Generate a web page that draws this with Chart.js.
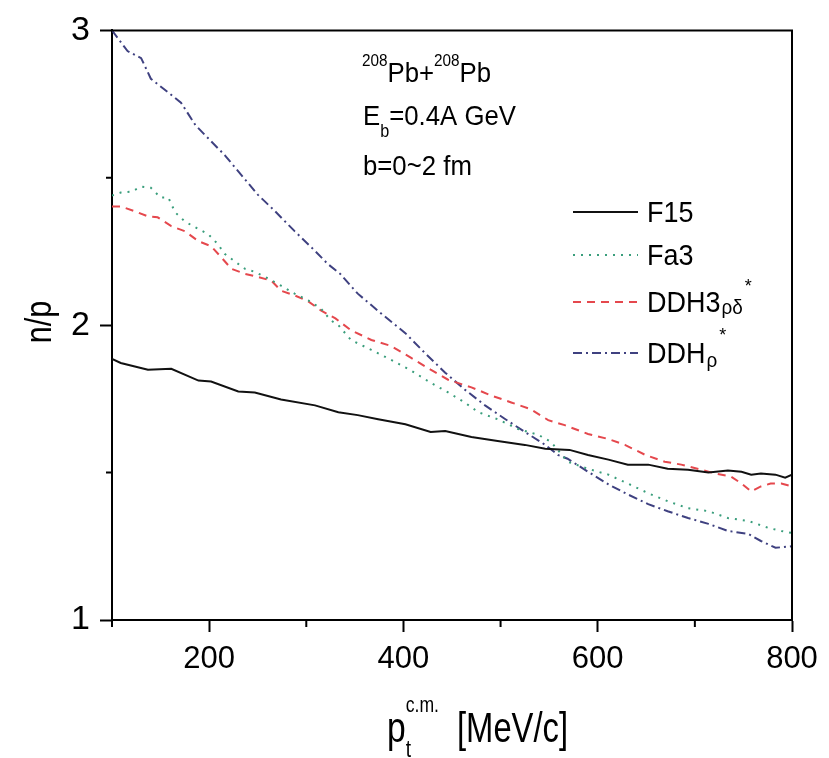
<!DOCTYPE html>
<html>
<head>
<meta charset="utf-8">
<script src="https://cdn.jsdelivr.net/npm/chart.js@4.4.1/dist/chart.umd.min.js"></script>
<style>
  html, body { margin: 0; padding: 0; background: #fff; }
</style>
</head>
<body>
<canvas id="myChart" width="829" height="758"></canvas>
<script>
// values (x in MeV/c, y = n/p ratio)
const f15X = [100, 109, 137, 161, 189, 202, 230, 247, 274, 309, 333, 353, 374, 402, 428, 443, 470, 497, 525, 546, 571, 590, 611, 631, 652, 672, 693, 714, 734, 748, 758, 768, 783, 793, 800];
const f15Y = [1.886, 1.872, 1.849, 1.852, 1.812, 1.809, 1.775, 1.772, 1.748, 1.728, 1.705, 1.695, 1.681, 1.664, 1.638, 1.641, 1.621, 1.607, 1.594, 1.581, 1.577, 1.560, 1.544, 1.527, 1.527, 1.513, 1.510, 1.500, 1.507, 1.503, 1.493, 1.497, 1.493, 1.483, 1.493];

const fa3X = [100, 109, 120, 130, 140, 150, 158, 165, 175, 189, 199, 209, 216, 227, 237, 247, 261, 274, 288, 302, 315, 325, 333, 346, 367, 387, 408, 428, 446, 463, 477, 497, 518, 539, 552, 569, 590, 611, 631, 652, 672, 693, 714, 734, 755, 776, 789, 800];
const fa3Y = [2.44, 2.45, 2.453, 2.47, 2.466, 2.433, 2.433, 2.383, 2.352, 2.326, 2.309, 2.275, 2.242, 2.215, 2.191, 2.181, 2.158, 2.134, 2.107, 2.084, 2.057, 2.017, 2.000, 1.950, 1.916, 1.883, 1.846, 1.805, 1.772, 1.738, 1.705, 1.681, 1.648, 1.628, 1.604, 1.537, 1.513, 1.493, 1.463, 1.430, 1.403, 1.379, 1.369, 1.346, 1.336, 1.312, 1.302, 1.295];

const ddh3X = [100, 109, 124, 137, 147, 161, 175, 189, 202, 212, 223, 237, 250, 264, 274, 288, 302, 315, 330, 346, 367, 387, 408, 428, 446, 470, 490, 511, 531, 549, 566, 590, 611, 628, 649, 669, 686, 706, 721, 737, 748, 758, 768, 778, 789, 800];
const ddh3Y = [2.403, 2.403, 2.386, 2.369, 2.366, 2.336, 2.319, 2.285, 2.268, 2.232, 2.191, 2.174, 2.164, 2.151, 2.117, 2.101, 2.081, 2.050, 2.023, 1.983, 1.950, 1.930, 1.889, 1.849, 1.815, 1.789, 1.762, 1.738, 1.715, 1.678, 1.661, 1.631, 1.614, 1.594, 1.560, 1.537, 1.527, 1.510, 1.497, 1.487, 1.463, 1.436, 1.453, 1.463, 1.463, 1.453];

const ddhRhoX = [100, 116, 130, 140, 158, 171, 186, 199, 216, 233, 250, 268, 288, 309, 322, 335, 353, 377, 402, 422, 443, 463, 484, 505, 525, 546, 559, 569, 590, 611, 631, 652, 672, 693, 714, 734, 755, 768, 783, 800];
const ddhRhoY = [3.0, 2.93, 2.906, 2.836, 2.789, 2.755, 2.678, 2.634, 2.577, 2.51, 2.443, 2.386, 2.319, 2.252, 2.208, 2.174, 2.107, 2.040, 1.973, 1.906, 1.839, 1.782, 1.728, 1.681, 1.638, 1.594, 1.560, 1.547, 1.503, 1.460, 1.426, 1.393, 1.369, 1.346, 1.326, 1.302, 1.292, 1.268, 1.245, 1.25];

const xTicks = [100, 200, 300, 400, 500, 600, 700, 800];
const xLabels = [200, 400, 600, 800];
const yTicks = [1, 2, 3];
const yMinor = [1.5, 2.5];

const SANS = "'Liberation Sans', Arial, sans-serif";

const zip = (xs, ys) => xs.map((x, i) => ({ x, y: ys[i] }));

const series = [
  { label: "F15", data: zip(f15X, f15Y), borderColor: "#111", borderDash: [], borderWidth: 2 },
  { label: "Fa3", data: zip(fa3X, fa3Y), borderColor: "#3a9e7c", borderDash: [2, 6], borderWidth: 2 },
  { label: "DDH3", data: zip(ddh3X, ddh3Y), borderColor: "#e5484d", borderDash: [8, 6], borderWidth: 2 },
  { label: "DDHrho", data: zip(ddhRhoX, ddhRhoY), borderColor: "#3f4180", borderDash: [9, 4, 2, 4], borderWidth: 2 }
].map(s => ({ ...s, fill: false, pointRadius: 0, tension: 0, borderCapStyle: "butt" }));

// draws scaled (condensed) text, returns its width
function txt(ctx, s, x, y, size, sx) {
  ctx.save();
  ctx.font = size + "px " + SANS;
  ctx.translate(x, y);
  ctx.scale(sx, 1);
  ctx.fillText(s, 0, 0);
  const w = ctx.measureText(s).width * sx;
  ctx.restore();
  return w;
}

const decorations = {
  id: "decorations",
  afterDraw(chart) {
    const { ctx, chartArea: a, scales } = chart;
    ctx.save();
    ctx.strokeStyle = "#000";
    ctx.fillStyle = "#000";
    ctx.lineWidth = 2;

    // frame top + right
    ctx.beginPath();
    ctx.moveTo(a.left, a.top);
    ctx.lineTo(a.right, a.top);
    ctx.lineTo(a.right, a.bottom);
    ctx.stroke();

    // minor ticks
    ctx.beginPath();
    xTicks.filter(v => !xLabels.includes(v)).forEach(v => {
      const px = scales.x.getPixelForValue(v);
      ctx.moveTo(px, a.bottom);
      ctx.lineTo(px, a.bottom + 7);
    });
    yMinor.forEach(v => {
      const py = scales.y.getPixelForValue(v);
      ctx.moveTo(a.left, py);
      ctx.lineTo(a.left - 6, py);
    });
    ctx.stroke();

    // axis titles
    ctx.textBaseline = "alphabetic";
    ctx.textAlign = "left";
    ctx.save();
    ctx.translate(51, 322);
    ctx.rotate(-Math.PI / 2);
    ctx.font = "36px " + SANS;
    const nw = ctx.measureText("n/p").width * 0.85;
    txt(ctx, "n/p", -nw / 2, 0, 36, 0.85);
    ctx.restore();

    let x = 387;
    x += txt(ctx, "p", x, 742, 42, 0.8);
    txt(ctx, "t", x, 757, 24, 0.8);
    txt(ctx, "c.m.", x, 712, 22, 0.8);
    txt(ctx, "[MeV/c]", 457, 742, 42, 0.78);

    // annotation
    x = 362;
    x += txt(ctx, "208", x, 66, 17, 0.9);
    x += txt(ctx, "Pb+", x, 82, 28, 0.92);
    x += txt(ctx, "208", x, 66, 17, 0.9);
    txt(ctx, "Pb", x, 82, 28, 0.92);
    x = 363;
    x += txt(ctx, "E", x, 125, 28, 0.92);
    x += txt(ctx, "b", x, 137, 18, 0.9);
    txt(ctx, "=0.4A GeV", x, 125, 28, 0.92);
    txt(ctx, "b=0~2 fm", 363, 175, 28, 0.92);

    // legend
    const rows = [222, 265, 312, 363];
    series.forEach((s, i) => {
      const ly = rows[i] - 10;
      ctx.save();
      ctx.strokeStyle = s.borderColor;
      ctx.lineWidth = s.borderWidth;
      ctx.setLineDash(s.borderDash);
      ctx.beginPath();
      ctx.moveTo(573, ly);
      ctx.lineTo(638, ly);
      ctx.stroke();
      ctx.restore();
    });
    txt(ctx, "F15", 647, rows[0], 29, 0.93);
    txt(ctx, "Fa3", 647, rows[1], 29, 0.93);
    x = 647;
    x += txt(ctx, "DDH3", x, rows[2], 29, 0.93);
    x += txt(ctx, "\u03C1\u03B4", x + 1, rows[2] + 2, 21, 0.9);
    txt(ctx, "*", x + 3, rows[2] - 20, 18, 1);
    x = 647;
    x += txt(ctx, "DDH", x, rows[3], 29, 0.93);
    x += txt(ctx, "\u03C1", x + 1, rows[3] + 4, 21, 0.9);
    txt(ctx, "*", x + 3, rows[3] - 22, 18, 1);

    ctx.restore();
  }
};

new Chart(document.getElementById("myChart"), {
  type: "line",
  data: { datasets: series },
  options: {
    responsive: false,
    animation: false,
    layout: { padding: { top: 24, right: 37, left: 0, bottom: 0 } },
    plugins: { legend: { display: false }, tooltip: { enabled: false } },
    scales: {
      x: {
        type: "linear",
        min: 100,
        max: 800,
        afterBuildTicks: s => { s.ticks = xTicks.map(v => ({ value: v })); },
        afterFit: s => { s.height = 138; },
        ticks: {
          autoSkip: false,
          maxRotation: 0,
          padding: 9,
          color: "#000",
          font: { family: SANS, size: 31 },
          callback: v => (xLabels.includes(v) ? String(v) : "")
        },
        grid: {
          drawOnChartArea: false,
          tickLength: 12,
          tickWidth: 2,
          tickColor: c => (c.tick && xLabels.includes(c.tick.value) ? "#000" : "rgba(0,0,0,0)")
        },
        border: { display: true, color: "#000", width: 2 }
      },
      y: {
        type: "linear",
        min: 1,
        max: 3,
        afterBuildTicks: s => { s.ticks = yTicks.map(v => ({ value: v })); },
        afterFit: s => { s.width = 112; },
        ticks: {
          padding: 10,
          color: "#000",
          font: { family: SANS, size: 34 },
          callback: v => String(v)
        },
        grid: { drawOnChartArea: false, tickLength: 12, tickWidth: 2, tickColor: "#000" },
        border: { display: true, color: "#000", width: 2 }
      }
    }
  },
  plugins: [decorations]
});
</script>
</body>
</html>
